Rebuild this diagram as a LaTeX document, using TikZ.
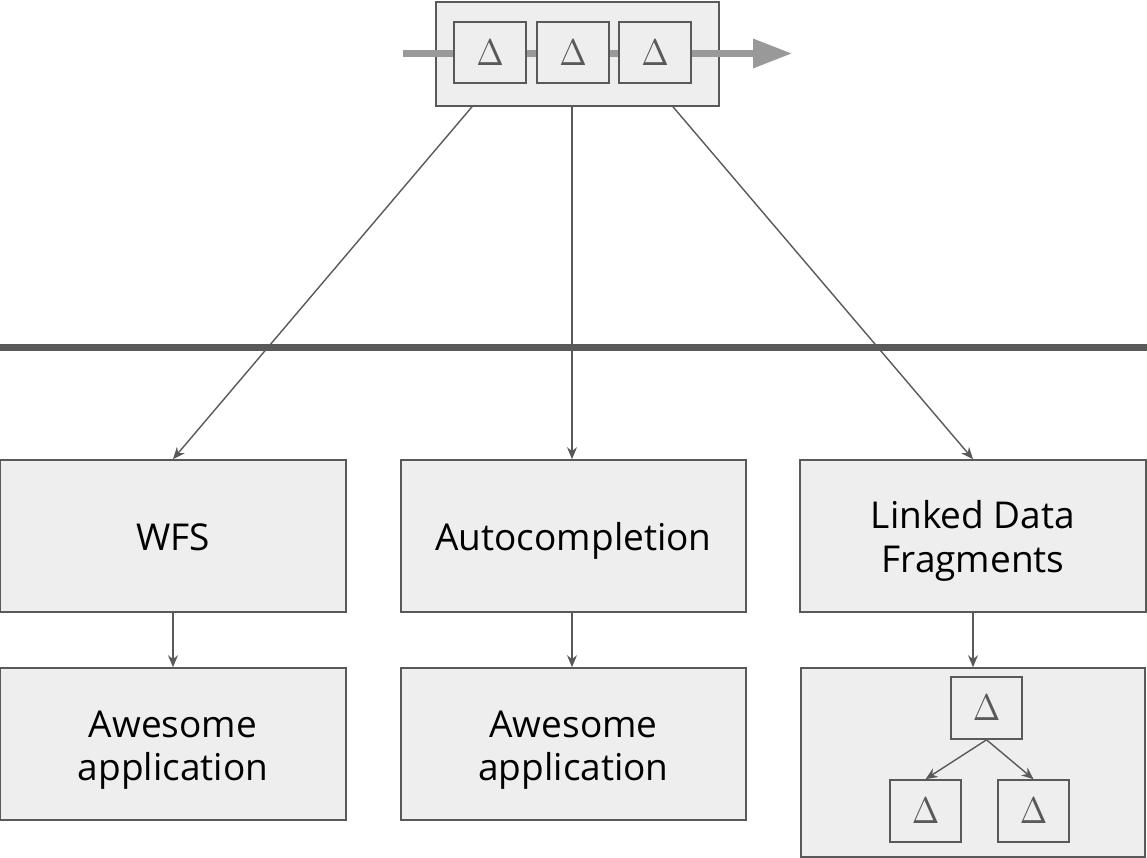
\documentclass[tikz,border=0pt]{standalone}
\usepackage[no-math]{fontspec}
\usepackage{graphicx}
\setmainfont{Open Sans}
\usetikzlibrary{arrows.meta,calc}
\definecolor{boxfill}{HTML}{EEEEEE}
\definecolor{edge}{HTML}{595959}
\definecolor{flow}{HTML}{999999}
\tikzset{
  panel/.style={draw=edge, fill=boxfill, line width=1.6pt, minimum width=346pt,
    minimum height=152pt, inner sep=0pt},
  caption/.style={anchor=base, inner sep=0pt, font=\fontsize{37}{44}\selectfont},
  deltabox/.style={draw=edge, fill=boxfill, line width=1.6pt, minimum width=72pt,
    minimum height=61pt, inner sep=0pt, text=edge},
  link/.style={draw=edge, line width=1.4pt, -{Stealth[length=12pt,width=10pt]}},
  stream/.style={draw=flow, line width=6.5pt},
}
% a large upright capital delta, slightly condensed
\newcommand{\dlt}{\scalebox{3.3}[3.7]{$\Delta$}}
\begin{document}
\begin{tikzpicture}[x=1pt,y=-1pt]
\useasboundingbox (0,0) rectangle (1147,858);

% change stream with three deltas
\node[draw=edge, fill=boxfill, line width=1.6pt, minimum width=283pt,
  minimum height=104pt, inner sep=0pt] (stream) at (577.5,54) {};
\coordinate (in) at (403,53.5);
\coordinate (out) at (792,53.5);
\node[deltabox] (d1) at (490,52.5) {};
\node[deltabox] (d2) at (573,52.5) {};
\node[deltabox] (d3) at (655,52.5) {};
\draw[stream] (in) -- (in -| d1.west);
\draw[stream] (in -| d1.east) -- (in -| d2.west);
\draw[stream] (in -| d2.east) -- (in -| d3.west);
\draw[stream, -{Triangle[length=39pt,width=28pt]}] (in -| d3.east) -- (out);
\node[deltabox] at (d1) {\dlt};
\node[deltabox] at (d2) {\dlt};
\node[deltabox] at (d3) {\dlt};

% separator
\coordinate (sepL) at (0,347);
\coordinate (sepR) at (1147,347);
\draw[edge, line width=7pt] (sepL) -- (sepR);

% interfaces
\node[panel] (wfs) at (173,536) {};
\node[panel, minimum width=345pt] (auto) at (573.5,536) {};
\node[panel] (ldf) at (973,536) {};
\node[caption] at (173,550) {WFS};
\node[caption] at (573.5,550) {Autocompletion};
\node[caption] at (973,528) {Linked Data};
\node[caption] at (973,572) {Fragments};

% consumers
\node[panel] (app1) at (173,744) {};
\node[panel, minimum width=345pt] (app2) at (573.5,744) {};
\node[caption] at (173,737) {Awesome};
\node[caption] at (173,780) {application};
\node[caption] at (573.5,737) {Awesome};
\node[caption] at (573.5,780) {application};
\node[panel, minimum width=344pt, minimum height=189pt] (tree) at (973,762.5) {};

\node[deltabox, minimum width=71pt, minimum height=62pt] (t0) at (986.5,708) {\dlt};
\node[deltabox, minimum width=71pt, minimum height=62pt] (t1) at (925.5,811) {\dlt};
\node[deltabox, minimum width=71pt, minimum height=62pt] (t2) at (1033.5,811) {\dlt};

% connectors
\draw[link] ([xshift=-105.5pt]stream.south) -- (wfs.north);
\draw[link] ([xshift=-5.5pt]stream.south) -- ([xshift=-1.5pt]auto.north);
\draw[link] ([xshift=95.5pt]stream.south) -- (ldf.north);
\draw[link] (wfs) -- (app1);
\draw[link] ([xshift=-1.5pt]auto.south) -- ([xshift=-1.5pt]app2.north);
\draw[link] (ldf) -- (tree);
\draw[link] (t0.south) -- (t1.north);
\draw[link] (t0.south) -- (t2.north);
\end{tikzpicture}
\end{document}
